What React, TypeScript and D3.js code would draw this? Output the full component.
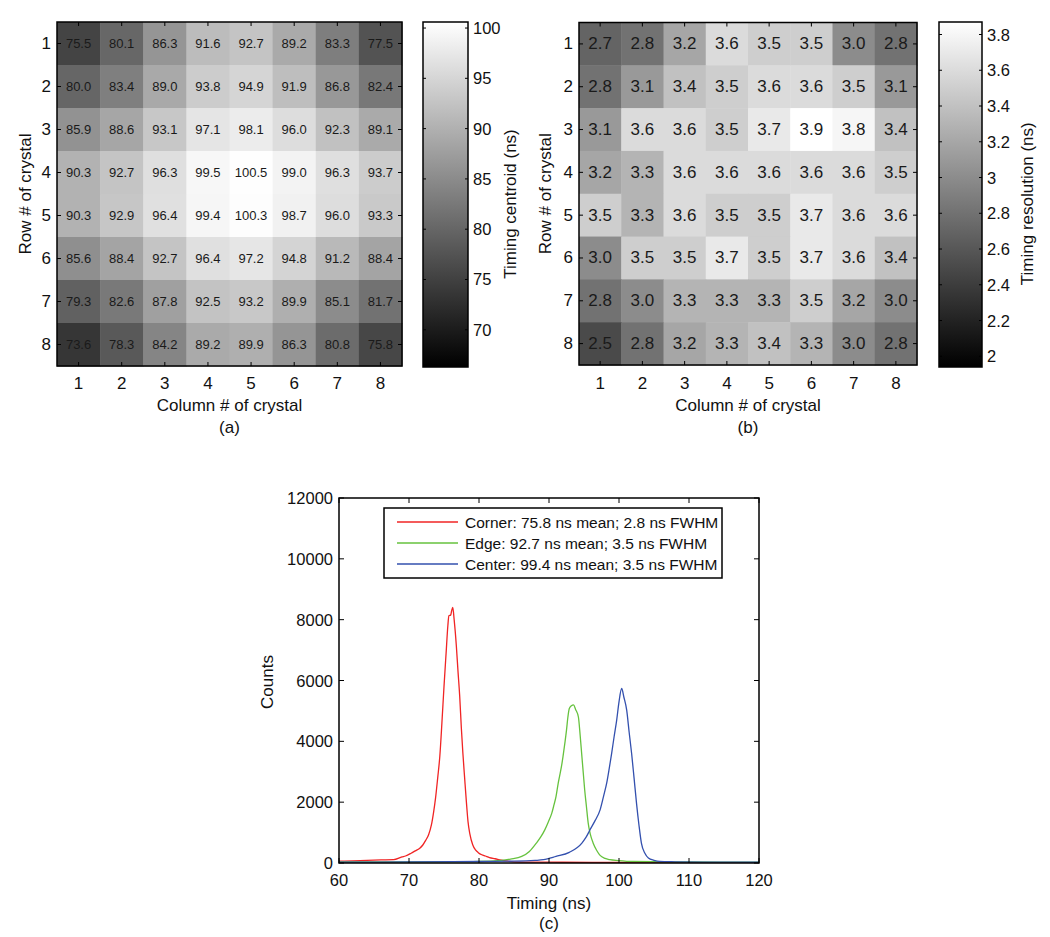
import React from "react";
import * as d3 from "d3";

const rowLabels = ["1", "2", "3", "4", "5", "6", "7", "8"];
const colLabels = ["1", "2", "3", "4", "5", "6", "7", "8"];

const centroid: number[][] = [
  [75.5, 80.1, 86.3, 91.6, 92.7, 89.2, 83.3, 77.5],
  [80.0, 83.4, 89.0, 93.8, 94.9, 91.9, 86.8, 82.4],
  [85.9, 88.6, 93.1, 97.1, 98.1, 96.0, 92.3, 89.1],
  [90.3, 92.7, 96.3, 99.5, 100.5, 99.0, 96.3, 93.7],
  [90.3, 92.9, 96.4, 99.4, 100.3, 98.7, 96.0, 93.3],
  [85.6, 88.4, 92.7, 96.4, 97.2, 94.8, 91.2, 88.4],
  [79.3, 82.6, 87.8, 92.5, 93.2, 89.9, 85.1, 81.7],
  [73.6, 78.3, 84.2, 89.2, 89.9, 86.3, 80.8, 75.8],
];

const resolution: number[][] = [
  [2.7, 2.8, 3.2, 3.6, 3.5, 3.5, 3.0, 2.8],
  [2.8, 3.1, 3.4, 3.5, 3.6, 3.6, 3.5, 3.1],
  [3.1, 3.6, 3.6, 3.5, 3.7, 3.9, 3.8, 3.4],
  [3.2, 3.3, 3.6, 3.6, 3.6, 3.6, 3.6, 3.5],
  [3.5, 3.3, 3.6, 3.5, 3.5, 3.7, 3.6, 3.6],
  [3.0, 3.5, 3.5, 3.7, 3.5, 3.7, 3.6, 3.4],
  [2.8, 3.0, 3.3, 3.3, 3.3, 3.5, 3.2, 3.0],
  [2.5, 2.8, 3.2, 3.3, 3.4, 3.3, 3.0, 2.8],
];

const centroidTicks = [70, 75, 80, 85, 90, 95, 100];
const resolutionTicks = [2, 2.2, 2.4, 2.6, 2.8, 3, 3.2, 3.4, 3.6, 3.8];
const centroidRange = [66.3, 100.6];
const resolutionRange = [1.94, 3.87];

const timingTicks = [60, 70, 80, 90, 100, 110, 120];
const countTicks = [0, 2000, 4000, 6000, 8000, 10000, 12000];

// [time (ns), counts]
const cornerSeries: [number, number][] = [
  [60, 60], [62, 70], [64, 85], [66, 100], [67.8, 110], [69, 200], [69.5, 230], [70.3, 320],
  [70.9, 400], [71.5, 480], [72.0, 600], [72.4, 750], [72.8, 930], [73.2, 1250], [73.5, 1650],
  [73.8, 2150], [74.1, 2800], [74.4, 3500], [74.7, 4600], [75.0, 5800], [75.3, 6900],
  [75.55, 7800], [75.7, 8130], [75.95, 8150], [76.1, 8300], [76.25, 8400], [76.45, 8000],
  [76.76, 7150], [77.0, 6300], [77.24, 5500], [77.48, 4430], [77.7, 3600], [77.95, 2790],
  [78.2, 2000], [78.43, 1360], [78.7, 950], [79.1, 600], [79.5, 430], [79.9, 340], [80.4, 270],
  [80.9, 230], [81.5, 180], [82.3, 140], [83.2, 90], [84.1, 60], [85, 40], [88, 30], [92, 25],
  [100, 20], [110, 15], [120, 10],
];

const edgeSeries: [number, number][] = [
  [60, 40], [70, 40], [80, 50], [83.2, 85], [84.5, 130], [86.1, 216], [87.2, 380], [88.2, 656],
  [88.8, 850], [89.4, 1090], [89.9, 1350], [90.4, 1640], [90.7, 1900], [91.0, 2180], [91.3, 2600],
  [91.5, 2840], [91.8, 3200], [92.0, 3500], [92.3, 4000], [92.5, 4370], [92.7, 4800], [92.9, 5080],
  [93.2, 5170], [93.5, 5200], [93.8, 5050], [94.2, 4800], [94.45, 4200], [94.7, 3500], [94.9, 2950],
  [95.1, 2400], [95.35, 1850], [95.6, 1310], [95.9, 950], [96.3, 660], [96.8, 420], [97.3, 250],
  [98.0, 150], [98.7, 108], [99.9, 80], [102, 50], [110, 35], [120, 30],
];

const centerSeries: [number, number][] = [
  [60, 30], [70, 35], [80, 50], [85, 60], [88, 85], [89.2, 108], [91.0, 216], [92.9, 350],
  [94.7, 656], [95.3, 850], [95.86, 1092], [96.6, 1400], [97.3, 1748], [97.8, 2200], [98.24, 2623],
  [98.6, 3100], [98.95, 3607], [99.3, 4150], [99.67, 4698], [100.0, 5300], [100.38, 5737],
  [100.7, 5450], [101.1, 5026], [101.45, 4300], [101.8, 3607], [102.15, 2800], [102.5, 1967],
  [102.85, 1250], [103.2, 656], [103.7, 320], [104.2, 164], [105.0, 90], [105.8, 52], [108, 40],
  [112, 30], [120, 25],
];

const legendLabels = [
  "Corner: 75.8 ns mean; 2.8 ns FWHM",
  "Edge: 92.7 ns mean; 3.5 ns FWHM",
  "Center: 99.4 ns mean; 3.5 ns FWHM",
];
const seriesColors = ["#f02424", "#66c23e", "#3350ae"];

const FONT = "'Liberation Sans', Arial, Helvetica, sans-serif";
const TXT = "#111";

type HeatProps = {
  data: number[][];
  x0: number; x1: number; y0: number; y1: number;
  cbX0: number; cbX1: number; cbY0: number; cbY1: number;
  range: number[];
  ticks: number[];
  cellFont: number;
  cbLabel: string;
  cbLabelX: number;
  rowTitleX: number;
  caption: string;
  id: string;
};

function Heatmap(p: HeatProps) {
  const xs = d3.scaleBand<string>().domain(colLabels).range([p.x0, p.x1]);
  const ys = d3.scaleBand<string>().domain(rowLabels).range([p.y0, p.y1]);
  const color = d3.scaleLinear<string>().domain(p.range).range(["#000000", "#ffffff"]).clamp(true);
  const cbScale = d3.scaleLinear().domain(p.range).range([p.cbY1, p.cbY0]);
  const cx = (p.x0 + p.x1) / 2;
  const cy = (p.y0 + p.y1) / 2;
  const tk = 4;
  return (
    <g>
      {p.data.map((row, i) =>
        row.map((v, j) => (
          <rect key={`${i}-${j}`} x={xs(colLabels[j])} y={ys(rowLabels[i])}
            width={xs.bandwidth() + 0.5} height={ys.bandwidth() + 0.5} fill={color(v)} />
        ))
      )}
      {p.data.map((row, i) =>
        row.map((v, j) => (
          <text key={`t${i}-${j}`} x={(xs(colLabels[j]) as number) + xs.bandwidth() / 2}
            y={(ys(rowLabels[i]) as number) + ys.bandwidth() / 2} textAnchor="middle"
            dominantBaseline="central" fontSize={p.cellFont} fill="#1a1a1a">{v.toFixed(1)}</text>
        ))
      )}
      <rect x={p.x0} y={p.y0} width={p.x1 - p.x0} height={p.y1 - p.y0} fill="none" stroke="#000" strokeWidth={1.5} />
      {rowLabels.map((r) => {
        const y = (ys(r) as number) + ys.bandwidth() / 2;
        return (
          <g key={"r" + r}>
            <line x1={p.x0} x2={p.x0 + tk} y1={y} y2={y} stroke="#000" />
            <line x1={p.x1} x2={p.x1 - tk} y1={y} y2={y} stroke="#000" />
            <text x={p.x0 - 6} y={y} textAnchor="end" dominantBaseline="central" fontSize={17} fill={TXT}>{r}</text>
          </g>
        );
      })}
      {colLabels.map((c) => {
        const x = (xs(c) as number) + xs.bandwidth() / 2;
        return (
          <g key={"c" + c}>
            <line x1={x} x2={x} y1={p.y0} y2={p.y0 + tk} stroke="#000" />
            <line x1={x} x2={x} y1={p.y1} y2={p.y1 - tk} stroke="#000" />
            <text x={x} y={383} textAnchor="middle" dominantBaseline="central" fontSize={17} fill={TXT}>{c}</text>
          </g>
        );
      })}
      <text x={cx} y={405} textAnchor="middle" dominantBaseline="central" fontSize={17} fill={TXT}>Column # of crystal</text>
      <text x={cx} y={427} textAnchor="middle" dominantBaseline="central" fontSize={17} fill={TXT}>{p.caption}</text>
      <text transform={`translate(${p.rowTitleX},${cy}) rotate(-90)`} textAnchor="middle"
        dominantBaseline="central" fontSize={17} fill={TXT}>Row # of crystal</text>
      <defs>
        <linearGradient id={p.id} x1="0" y1="1" x2="0" y2="0">
          <stop offset="0" stopColor="#000" />
          <stop offset="1" stopColor="#fff" />
        </linearGradient>
      </defs>
      <rect x={p.cbX0} y={p.cbY0} width={p.cbX1 - p.cbX0} height={p.cbY1 - p.cbY0} fill={`url(#${p.id})`} stroke="#000" strokeWidth={1.5} />
      {p.ticks.map((t) => {
        const y = cbScale(t);
        return (
          <g key={"cb" + t}>
            <line x1={p.cbX0} x2={p.cbX0 + 3} y1={y} y2={y} stroke="#000" />
            <line x1={p.cbX1} x2={p.cbX1 - 3} y1={y} y2={y} stroke="#000" />
            <text x={p.cbX1 + 5} y={y} dominantBaseline="central" fontSize={16.5} fill={TXT}>{String(t)}</text>
          </g>
        );
      })}
      <text transform={`translate(${p.cbLabelX},${cy + 10}) rotate(-90)`} textAnchor="middle"
        dominantBaseline="central" fontSize={17} fill={TXT}>{p.cbLabel}</text>
    </g>
  );
}

function Histogram() {
  const x0 = 339, x1 = 759, y0 = 498, y1 = 863;
  const xs = d3.scaleLinear().domain([60, 120]).range([x0, x1]);
  const ys = d3.scaleLinear().domain([0, 12000]).range([y1, y0]);
  const line = d3.line<[number, number]>().x((d) => xs(d[0])).y((d) => ys(d[1])).curve(d3.curveMonotoneX);
  const series = [cornerSeries, edgeSeries, centerSeries];
  const tk = 5;
  const lgX0 = 384, lgX1 = 722, lgY0 = 508, lgY1 = 578;
  const rowsY = [522, 543, 564];
  return (
    <g>
      <rect x={x0} y={y0} width={x1 - x0} height={y1 - y0} fill="#fff" />
      <defs>
        <clipPath id="hclip"><rect x={x0} y={y0} width={x1 - x0} height={y1 - y0} /></clipPath>
      </defs>
      <g clipPath="url(#hclip)">
        {series.map((s, i) => (
          <path key={i} d={line(s) as string} fill="none" stroke={seriesColors[i]} strokeWidth={1.3} />
        ))}
      </g>
      <rect x={x0} y={y0} width={x1 - x0} height={y1 - y0} fill="none" stroke="#000" strokeWidth={1.5} />
      {timingTicks.map((t) => (
        <g key={"x" + t}>
          <line x1={xs(t)} x2={xs(t)} y1={y1} y2={y1 - tk} stroke="#000" />
          <line x1={xs(t)} x2={xs(t)} y1={y0} y2={y0 + tk} stroke="#000" />
          <text x={xs(t)} y={880} textAnchor="middle" dominantBaseline="central" fontSize={16.5} fill={TXT}>{t}</text>
        </g>
      ))}
      {countTicks.map((c) => (
        <g key={"y" + c}>
          <line x1={x0} x2={x0 + tk} y1={ys(c)} y2={ys(c)} stroke="#000" />
          <line x1={x1} x2={x1 - tk} y1={ys(c)} y2={ys(c)} stroke="#000" />
          <text x={x0 - 6} y={ys(c)} textAnchor="end" dominantBaseline="central" fontSize={16.5} fill={TXT}>{c}</text>
        </g>
      ))}
      <text x={(x0 + x1) / 2} y={903} textAnchor="middle" dominantBaseline="central" fontSize={17} fill={TXT}>Timing (ns)</text>
      <text x={(x0 + x1) / 2} y={923} textAnchor="middle" dominantBaseline="central" fontSize={17} fill={TXT}>(c)</text>
      <text transform={`translate(267,682) rotate(-90)`} textAnchor="middle" dominantBaseline="central" fontSize={17} fill={TXT}>Counts</text>
      <rect x={lgX0} y={lgY0} width={lgX1 - lgX0} height={lgY1 - lgY0} fill="#fff" stroke="#000" strokeWidth={1.5} />
      {legendLabels.map((l, i) => (
        <g key={"l" + i}>
          <line x1={397} x2={458} y1={rowsY[i]} y2={rowsY[i]} stroke={seriesColors[i]} strokeWidth={1.5} />
          <text x={465} y={rowsY[i]} dominantBaseline="central" fontSize={15.5} fill={TXT}>{l}</text>
        </g>
      ))}
    </g>
  );
}

export default function App() {
  return (
    <svg width={1050} height={937} style={{ position: "absolute", left: 0, top: 0, background: "#fff" }}
      fontFamily={FONT}>
      <rect x={0} y={0} width={1050} height={937} fill="#fff" />
      <Heatmap data={centroid} x0={57} x1={402} y0={22} y1={366}
        cbX0={423} cbX1={468} cbY0={22} cbY1={367} range={centroidRange} ticks={centroidTicks}
        cellFont={13} cbLabel="Timing centroid (ns)" cbLabelX={510} rowTitleX={25} caption="(a)" id="cbA" />
      <Heatmap data={resolution} x0={579} x1={917} y0={22.5} y1={365}
        cbX0={939} cbX1={982} cbY0={22} cbY1={367} range={resolutionRange} ticks={resolutionTicks}
        cellFont={17} cbLabel="Timing resolution (ns)" cbLabelX={1027} rowTitleX={545} caption="(b)" id="cbB" />
      <Histogram />
    </svg>
  );
}
